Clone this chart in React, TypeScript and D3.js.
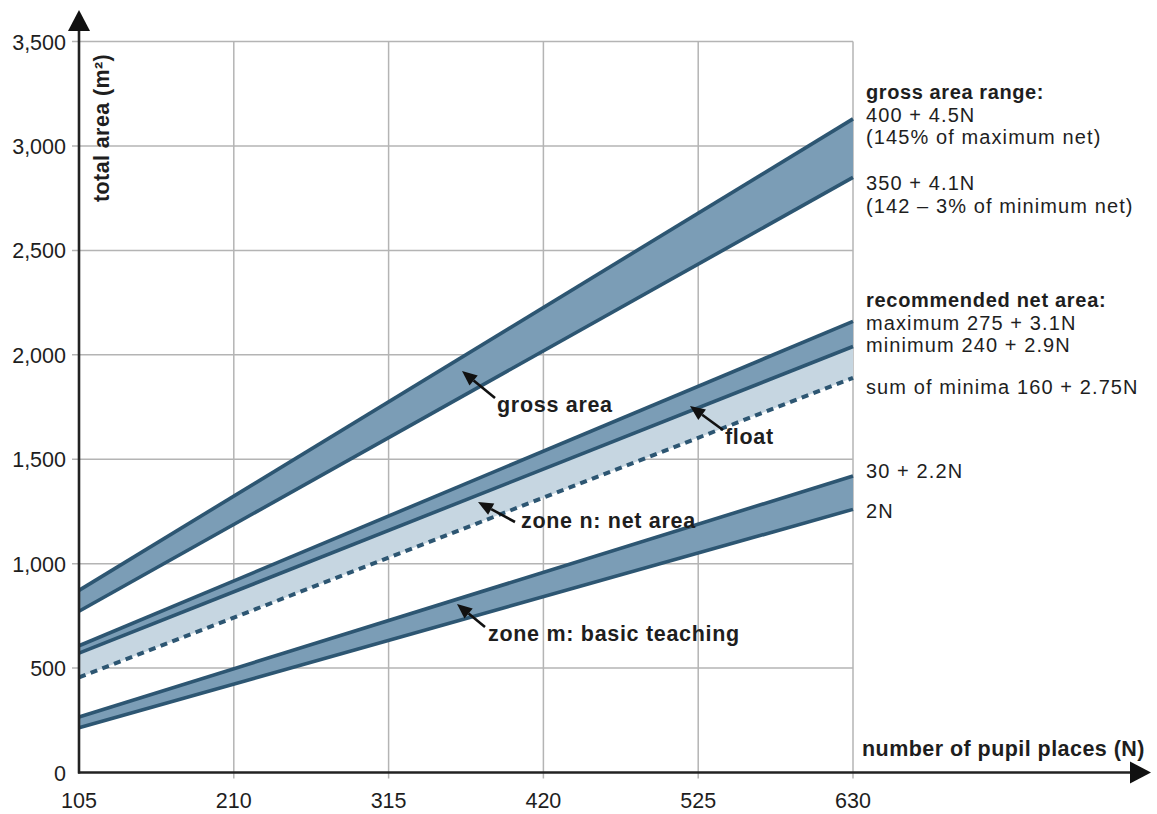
import React from "react";
import * as d3 from "d3";

// ---- data ----
const pupilPlaces = [105, 630];
const grossMax = [872, 3130];
const grossMin = [772, 2850];
const netMax = [607, 2160];
const netMin = [572, 2040];
const sumMinima = [455, 1890];
const basicMax = [266, 1420];
const basicMin = [214, 1260];

const xTicks = [105, 210, 315, 420, 525, 630];
const yTicks = [0, 500, 1000, 1500, 2000, 2500, 3000, 3500];

const grossLabels = ["400 + 4.5N", "(145% of maximum net)"];
const grossLabels2 = ["350 + 4.1N", "(142 – 3% of minimum net)"];
const netLabels = ["maximum 275 + 3.1N", "minimum 240 + 2.9N"];

const W = 1157;
const H = 814;
const LINE = "#2d5672";
const FILL = "#7b9db6";
const LIGHT = "#c6d6e1";
const GRID = "#b4b4b4";
const TEXT = "#1e1e1e";
const FONT = "'Liberation Sans', Arial, sans-serif";

export default function App() {
  const x = d3.scaleLinear().domain([105, 630]).range([79, 853]);
  const y = d3.scaleLinear().domain([0, 3500]).range([772.5, 41.6]);

  const pts = (vals: number[]) => pupilPlaces.map((n, i) => [n, vals[i]] as [number, number]);
  const line = d3
    .line<[number, number]>()
    .x((d) => x(d[0]))
    .y((d) => y(d[1]));
  const band = (top: number[], bot: number[]) =>
    d3
      .area<number>()
      .x((_, i) => x(pupilPlaces[i]))
      .y0((_, i) => y(bot[i]))
      .y1((_, i) => y(top[i]))(pupilPlaces.map((_, i) => i)) as string;

  const arrow = (x1: number, y1: number, x2: number, y2: number, key: string) => {
    const ang = Math.atan2(y2 - y1, x2 - x1);
    const L = 15;
    const Wd = 6.5;
    const bx = x2 - L * Math.cos(ang);
    const by = y2 - L * Math.sin(ang);
    const px = -Math.sin(ang) * Wd;
    const py = Math.cos(ang) * Wd;
    return (
      <g key={key}>
        <line x1={x1} y1={y1} x2={bx} y2={by} stroke="#111" strokeWidth={2.6} />
        <path d={`M${x2},${y2}L${bx + px},${by + py}L${bx - px},${by - py}Z`} fill="#111" />
      </g>
    );
  };

  const x0 = x(105);
  const y0 = y(0);

  return (
    <svg
      width={W}
      height={H}
      style={{ position: "absolute", left: 0, top: 0, background: "#fff" }}
      fontFamily={FONT}
    >
      <rect width={W} height={H} fill="#fff" />
      {/* grid */}
      {yTicks
        .filter((t) => t > 0)
        .map((t) => (
          <line key={"gy" + t} x1={x0 - 7} x2={x(630)} y1={y(t)} y2={y(t)} stroke={GRID} strokeWidth={1.5} />
        ))}
      {xTicks
        .filter((t) => t > 105)
        .map((t) => (
          <line key={"gx" + t} x1={x(t)} x2={x(t)} y1={y(3500)} y2={y0 + 6} stroke={GRID} strokeWidth={1.5} />
        ))}

      {/* bands */}
      <path d={band(grossMax, grossMin)} fill={FILL} />
      <path d={band(netMax, netMin)} fill={FILL} />
      <path d={band(netMin, sumMinima)} fill={LIGHT} />
      <path d={band(basicMax, basicMin)} fill={FILL} />

      {/* lines */}
      {[grossMax, grossMin, netMax, netMin, basicMax, basicMin].map((v, i) => (
        <path key={"l" + i} d={line(pts(v)) as string} fill="none" stroke={LINE} strokeWidth={3.6} />
      ))}
      <path
        d={line(pts(sumMinima)) as string}
        fill="none"
        stroke={LINE}
        strokeWidth={4}
        strokeDasharray="7 5.5"
      />

      {/* axes */}
      <line x1={x0} x2={x0} y1={y0 + 1} y2={24} stroke="#222" strokeWidth={2.6} />
      <path d={`M${x0},10L${x0 - 11},31L${x0 + 11},31Z`} fill="#111" />
      <line x1={x0 - 1} x2={1135} y1={y0} y2={y0} stroke="#222" strokeWidth={2.6} />
      <path d={`M1151,${y0}L1130,${y0 - 11}L1130,${y0 + 11}Z`} fill="#111" />

      {/* tick labels */}
      {yTicks.map((t) => (
        <text key={"ty" + t} x={66} y={y(t) + 8} textAnchor="end" fontSize={21.5} fill={TEXT}>
          {d3.format(",")(t)}
        </text>
      ))}
      {xTicks.map((t) => (
        <text key={"tx" + t} x={x(t)} y={808} textAnchor="middle" fontSize={21.5} fill={TEXT}>
          {t}
        </text>
      ))}

      {/* axis titles */}
      <text
        transform={`translate(109,202) rotate(-90)`}
        fontSize={21.5}
        fontWeight="bold"
        fill={TEXT}
        letterSpacing={0.4}
      >
        total area (m²)
      </text>
      <text x={862} y={756} fontSize={21.5} fontWeight="bold" fill={TEXT} letterSpacing={0.45}>
        number of pupil places (N)
      </text>

      {/* right labels */}
      <g fontSize={20} fill={TEXT} letterSpacing={1.1}>
        <text x={866} y={99} fontWeight="bold" letterSpacing={0.6}>gross area range:</text>
        <text x={866} y={121.5}>{grossLabels[0]}</text>
        <text x={866} y={144}>{grossLabels[1]}</text>
        <text x={866} y={190}>{grossLabels2[0]}</text>
        <text x={866} y={213}>{grossLabels2[1]}</text>
        <text x={866} y={307} fontWeight="bold" letterSpacing={0.7}>recommended net area:</text>
        <text x={866} y={329.5}>{netLabels[0]}</text>
        <text x={866} y={352}>{netLabels[1]}</text>
        <text x={866} y={394}>sum of minima 160 + 2.75N</text>
        <text x={866} y={478}>30 + 2.2N</text>
        <text x={866} y={518}>2N</text>
      </g>

      {/* annotations */}
      {arrow(495, 398, 462, 371, "a1")}
      {arrow(723, 430, 690, 406, "a2")}
      {arrow(515, 522, 478, 502, "a3")}
      {arrow(485, 627, 457, 604, "a4")}
      <g fontSize={21.5} fontWeight="bold" fill={TEXT} letterSpacing={0.7}>
        <text x={497} y={412}>gross area</text>
        <text x={725} y={444}>float</text>
        <text x={521} y={528}>zone n: net area</text>
        <text x={488} y={641}>zone m: basic teaching</text>
      </g>
    </svg>
  );
}
